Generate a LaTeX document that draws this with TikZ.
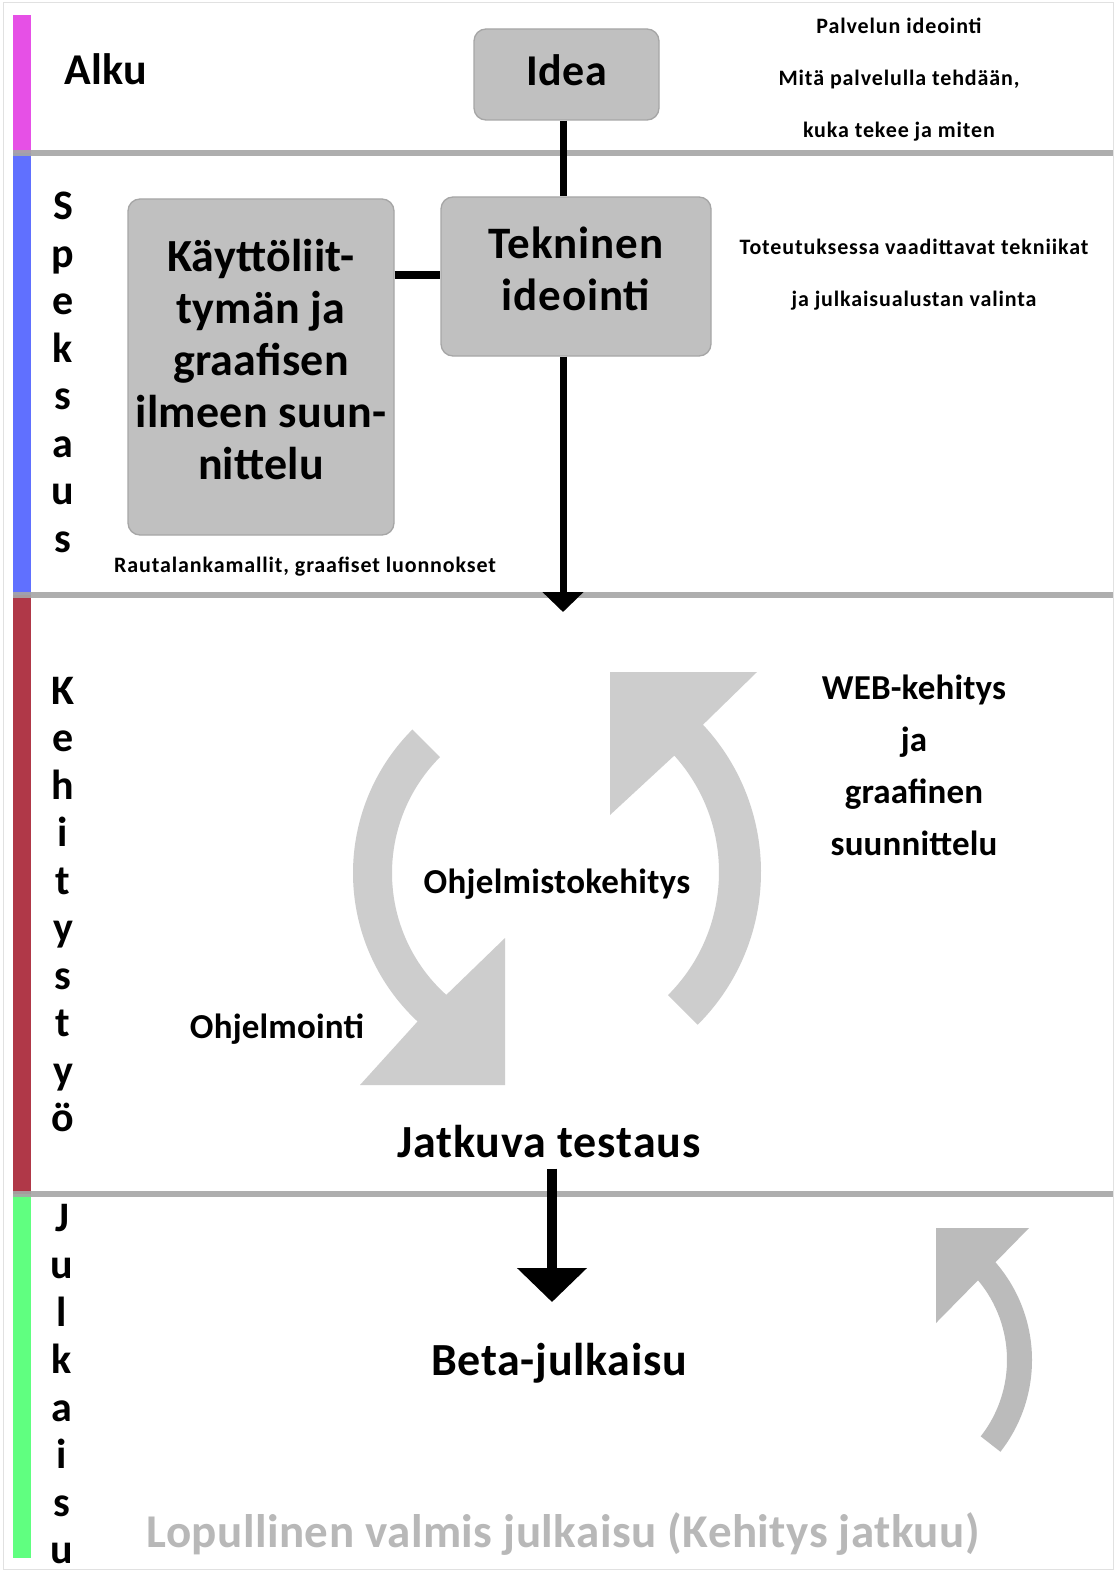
\documentclass[tikz,border=0pt]{standalone}
\usepackage{fontspec}
\setmainfont{Carlito}
\usetikzlibrary{arrows.meta,calc}
\definecolor{boxfill}{RGB}{192,192,192}
\definecolor{boxline}{RGB}{166,166,166}
\definecolor{sepgray}{RGB}{166,166,166}
\definecolor{barA}{RGB}{230,80,230}
\definecolor{barB}{RGB}{96,112,255}
\definecolor{barC}{RGB}{176,56,72}
\definecolor{barD}{RGB}{96,255,128}
\definecolor{cycgray}{RGB}{205,205,205}
\definecolor{cycgrayB}{RGB}{187,187,187}
\definecolor{finalgray}{RGB}{184,184,184}
\definecolor{framegray}{RGB}{225,225,225}
\newcommand{\fsz}[3]{\fontsize{#1}{#2}\selectfont\bfseries\addfontfeature{LetterSpace=#3}}
\newcommand{\liftbox}[2]{\raisebox{#1}[\height][\depth]{\begin{tabular}{@{}c@{}}#2\end{tabular}}}
\begin{document}
\begin{tikzpicture}[x=1pt,y=-1pt,
  box/.style={draw=boxline, fill=boxfill, rounded corners=12pt, line width=1.3pt, inner sep=0pt, align=center},
  lbl/.style={inner sep=0pt, align=center},
  conn/.style={line width=7pt, black},
  vword/.style={inner sep=0pt, align=center, anchor=north, font=\fsz{42}{47.5}{0}}
]
\useasboundingbox (0,0) rectangle (1119,1573);
\fill[white] (0,0) rectangle (1119,1573);
\draw[framegray, line width=1pt] (3.5,3) rectangle (1113,1569);

% colour bars
\fill[barA] (13,15) rectangle (31,153);
\fill[barB] (13,153) rectangle (31,595);
\fill[barC] (13,595) rectangle (31,1194);
\fill[barD] (13,1194) rectangle (31,1558);

% separators
\draw[sepgray, line width=6pt, opacity=0.9] (13,153) -- (1113,153);
\draw[sepgray, line width=6pt, opacity=0.9] (13,595) -- (1113,595);
\draw[sepgray, line width=6pt, opacity=0.9] (13,1194) -- (1113,1194);

% cycle arrows (Kehitystyo)
\coordinate (cL) at (556,873);
\coordinate (cR) at (545,872);
\coordinate (cJ) at (883,1360);
\fill[cycgray] ($(cL)+(225:203)$) arc[start angle=225, end angle=133, radius=203]
  -- (360,1085) -- (505,1085) -- (505,938)
  -- ($(cL)+(132:164)$) arc[start angle=132, end angle=225, radius=164] -- cycle;
\fill[cycgray] ($(cR)+(45:216)$) arc[start angle=45, end angle=-43, radius=216]
  -- (757,672) -- (610,672) -- (610,815)
  -- ($(cR)+(-42:174)$) arc[start angle=-42, end angle=45, radius=174] -- cycle;
% Julkaisu arrow
\fill[cycgrayB] ($(cJ)+(38:149)$) arc[start angle=38, end angle=-41, radius=149]
  -- (1029,1228) -- (936,1228) -- (936,1323)
  -- ($(cJ)+(-40:124)$) arc[start angle=-40, end angle=38, radius=124] -- cycle;

% boxes
\node[box, minimum width=185pt, minimum height=91pt, font=\fsz{44}{52}{1}] (idea) at (566.5,74.5) {\liftbox{-1pt}{Idea}};
\node[box, minimum width=270pt, minimum height=159pt, font=\fsz{45}{52}{2}] (tek) at (576,276.5) {\liftbox{2.5pt}{Tekninen\\ideointi}};
\node[box, minimum width=266pt, minimum height=336pt, font=\fsz{46}{52}{0.5}] (kay) at (261,367) {\liftbox{1.5pt}{Käyttöliit-\\tymän ja\\graafisen\\ilmeen suun-\\nittelu}};

% connectors
\coordinate (vx) at (563,0);
\coordinate (hy) at (0,275);
\coordinate (tip1) at (562,612);
\draw[conn] (idea.south -| vx) -- (tek.north -| vx);
\draw[conn, line width=8pt] (kay.east |- hy) -- (tek.west |- hy);
\draw[conn, -{Triangle[width=40pt,length=20pt]}] (tek.south -| vx) -- (vx |- tip1);

% texts
\node[lbl, font=\fsz{44}{52}{1}] (alku) at (106,69) {Alku};
\node[lbl, font=\fsz{22}{52}{4}] (palv) at (899,80) {Palvelun ideointi\\Mitä palvelulla tehdään,\\kuka tekee ja miten};
\node[lbl, font=\fsz{22}{52}{4}] (tot) at (914,275) {Toteutuksessa vaadittavat tekniikat\\ja julkaisualustan valinta};
\node[lbl, font=\fsz{22}{26}{4}] (raut) at (305,567) {Rautalankamallit, graafiset luonnokset};
\node[lbl, font=\fsz{35}{52}{0.5}] (web) at (914,765) {WEB-kehitys\\ja\\graafinen\\suunnittelu};
\node[lbl, font=\fsz{35}{42}{0.8}] (ohjk) at (557,884) {Ohjelmistokehitys};
\node[lbl, font=\fsz{35}{42}{0.5}] (ohjm) at (277,1029) {Ohjelmointi};
\node[lbl, font=\fsz{46}{52}{2}] (jat) at (549,1142) {Jatkuva testaus};
\node[lbl, font=\fsz{46}{52}{1.5}] (beta) at (559,1363) {Beta-julkaisu};
\node[lbl, font=\fsz{47}{52}{1}, text=finalgray] (lop) at (563,1534) {Lopullinen valmis julkaisu (Kehitys jatkuu)};

% vertical words
\node[vword] (spek) at (63,192) {S\\p\\e\\k\\s\\a\\u\\s};
\node[vword] (kehi) at (63,677) {K\\e\\h\\i\\t\\y\\s\\t\\y\\ö};
\node[vword] (julk) at (62,1204) {J\\u\\l\\k\\a\\i\\s\\u};

% arrow testaus -> beta
\coordinate (ax) at (552,0);
\coordinate (tip2) at (552,1302);
\draw[conn, line width=10pt, -{Triangle[width=68pt,length=34pt]}, shorten <=10pt] (jat.south -| ax) -- (ax |- tip2);
\end{tikzpicture}
\end{document}
